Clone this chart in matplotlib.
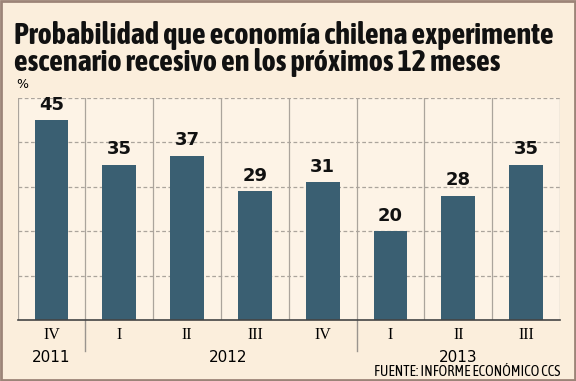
import matplotlib.pyplot as plt
from matplotlib.patches import Rectangle
from matplotlib import font_manager
import numpy as np

# ---------- data ----------
quarters = ["IV", "I", "II", "III", "IV", "I", "II", "III"]
values = [45, 35, 37, 29, 31, 20, 28, 35]
years = ["2011", "2012", "2013"]
year_pos = [0, 2.6, 6]          # x position of year labels (in category units)
year_breaks = [0.5, 4.5]        # separators between years

title = "Probabilidad que economía chilena experimente\nescenario recesivo en los próximos 12 meses"
source = "FUENTE: INFORME ECONÓMICO CCS"

bg = "#FBEEDC"
plot_bg = "#FDF3E6"
bar_color = "#3A5F72"
grid_color = "#ABA49C"


def pick_font(cands, default="DejaVu Sans"):
    for fam in cands:
        try:
            font_manager.findfont(font_manager.FontProperties(family=fam),
                                  fallback_to_default=False)
            return fam
        except ValueError:
            pass
    return default


narrow = pick_font(["Asap Condensed", "Barlow Semi Condensed", "Liberation Sans Narrow"])

fig = plt.figure(figsize=(5.76, 3.81), dpi=100, facecolor=bg)
ax = fig.add_axes([17.6 / 576, 61 / 381, (560 - 17.6) / 576, (320 - 98) / 381])
ax.set_facecolor(plot_bg)

x = np.arange(len(values))
ax.bar(x, values, width=0.5, color=bar_color, zorder=3)
for xi, v in zip(x, values):
    ax.text(xi, v + 1.5, str(v), ha="center", va="bottom", fontsize=13,
            fontweight="bold", family="DejaVu Sans", color="#111111", zorder=4)

ax.set_xlim(-0.5, len(values) - 0.5)
ax.set_ylim(0, 50)

# dashed horizontal grid
for yv in [10, 20, 30, 40, 50]:
    ax.axhline(yv, color=grid_color, lw=0.9, ls=(0, (3, 2)), zorder=1)
# vertical separators between categories
for b in np.arange(-0.5, len(values), 1.0):
    ax.axvline(b, color=grid_color, lw=0.9, zorder=2)

for s in ["top", "left", "right"]:
    ax.spines[s].set_visible(False)
ax.spines["bottom"].set_color("#444444")
ax.spines["bottom"].set_linewidth(1.2)
ax.spines["bottom"].set_zorder(5)
ax.set_yticks([])
ax.set_xticks(x)
ax.set_xticklabels(quarters, family="Liberation Serif", fontsize=11.5)
ax.tick_params(axis="x", length=0, pad=5)

# year labels and separators below the axis
for yp, yl in zip(year_pos, years):
    ax.text(yp, -0.135, yl, transform=ax.get_xaxis_transform(), ha="center",
            va="top", fontsize=11, family="DejaVu Sans")
for b in year_breaks:
    ax.plot([b, b], [0, -0.14], transform=ax.get_xaxis_transform(),
            color="#9A948E", lw=1, clip_on=False, zorder=2)

# title: scale so the first line spans the same width as the reference
t = fig.text(14 / 576, 1 - 21 / 381, title, ha="left", va="top", fontsize=20,
             fontweight="bold", family=narrow, linespacing=0.93, color="#111111")
fig.canvas.draw()
w = t.get_window_extent().width
t.set_fontsize(20 * 539 / w)

fig.text(16 / 576, 1 - 84 / 381, "%", ha="left", va="center", fontsize=9,
         family="DejaVu Sans")
src = fig.text(560 / 576, 1 - 372 / 381, source, ha="right", va="center",
               fontsize=10, family=narrow)
fig.canvas.draw()
src.set_fontsize(10 * 185 / src.get_window_extent().width)

# outer frame
fig.patches.append(Rectangle((0.002, 0.003), 0.996, 0.994, transform=fig.transFigure,
                             fill=False, edgecolor="#9C8478", lw=2))

fig.savefig("out.png", dpi=100, facecolor=bg)
